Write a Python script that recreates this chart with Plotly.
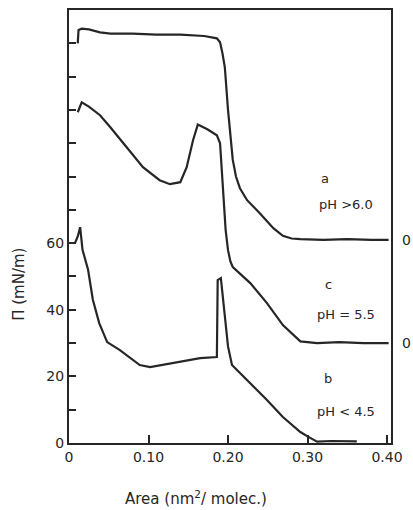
import plotly.graph_objects as go

# Curve a (pH > 6.0), displayed with its offset baseline (~61)
a_x = [0.011, 0.012, 0.016, 0.025, 0.039, 0.052, 0.080, 0.110, 0.140, 0.170, 0.186, 0.190,
       0.193, 0.196, 0.200, 0.203, 0.206, 0.210, 0.215, 0.224, 0.240, 0.257, 0.269, 0.280,
       0.291, 0.320, 0.350, 0.380, 0.402]
a_y = [120.0, 124.0, 124.4, 124.2, 123.3, 122.9, 122.9, 122.6, 122.6, 122.2, 121.5, 120.3,
       117.0, 112.8, 100.0, 93.0, 85.0, 80.0, 76.5, 72.9, 69.0, 64.5, 62.2, 61.4,
       61.2, 61.0, 61.2, 61.0, 61.0]

# Curve c (pH = 5.5), offset baseline (~30)
c_x = [0.011, 0.016, 0.025, 0.039, 0.052, 0.073, 0.093, 0.114, 0.127, 0.140, 0.148, 0.156,
       0.162, 0.174, 0.186, 0.190, 0.194, 0.197, 0.200, 0.203, 0.206, 0.228, 0.249, 0.269,
       0.291, 0.312, 0.340, 0.370, 0.402]
c_y = [99.3, 102.3, 101.0, 98.4, 94.8, 88.8, 82.8, 78.9, 77.7, 78.3, 82.8, 90.9,
       95.6, 94.2, 92.4, 90.0, 72.9, 64.0, 57.9, 54.5, 52.8, 48.0, 42.0, 35.4,
       30.5, 30.0, 30.3, 30.0, 30.0]

# Curve b (pH < 4.5)
b_x = [0.0075, 0.011, 0.014, 0.017, 0.024, 0.030, 0.038, 0.048, 0.064, 0.089, 0.102,
       0.131, 0.165, 0.186, 0.187, 0.191, 0.196, 0.200, 0.205, 0.228, 0.249, 0.269,
       0.291, 0.300, 0.312, 0.330, 0.362]
b_y = [60.0, 62.0, 64.8, 58.0, 52.0, 43.0, 36.0, 30.3, 27.9, 23.4, 22.8,
       24.0, 25.5, 25.8, 48.9, 49.5, 37.8, 29.0, 23.4, 18.0, 12.9, 7.8,
       3.3, 2.0, 0.4, 0.6, 0.5]

x_tickvals = [0, 0.10, 0.20, 0.30, 0.40]
x_ticktext = ["0", "0.10", "0.20", "0.30", "0.40"]
y_tickvals = [0, 10, 20, 30, 40, 50, 60, 70, 80, 90, 100, 110, 120]
y_ticktext = ["0", "", "20", "", "40", "", "60", "", "", "", "", "", ""]

curve_labels = [("a", 0.322, 79.5), ("pH >6.0", 0.349, 71.5),
                ("c", 0.326, 47.5), ("pH = 5.5", 0.349, 38.5),
                ("b", 0.326, 19.5), ("pH < 4.5", 0.349, 9.5)]
right_zero_y = [61, 30]

ink = "#262626"
fam = "DejaVu Sans, Verdana, sans-serif"
font = dict(family=fam, size=14, color=ink)

fig = go.Figure()
for xs, ys in [(a_x, a_y), (c_x, c_y), (b_x, b_y)]:
    fig.add_trace(go.Scatter(x=xs, y=ys, mode="lines",
                             line=dict(color=ink, width=2.2), showlegend=False,
                             hoverinfo="skip"))

fig.update_layout(
    width=413, height=510,
    margin=dict(l=69, r=22, t=10, b=67, autoexpand=False),
    paper_bgcolor="white", plot_bgcolor="white",
    font=font,
    showlegend=False,
)
fig.update_xaxes(range=[0, 0.405], tickvals=x_tickvals, ticktext=x_ticktext,
                 ticks="inside", ticklen=8, tickwidth=1.5, tickcolor=ink,
                 showline=True, linecolor=ink, linewidth=2, mirror=True,
                 showgrid=False, zeroline=False, tickfont=font, automargin=False)
fig.update_yaxes(range=[0, 130], tickvals=y_tickvals, ticktext=y_ticktext,
                 ticks="inside", ticklen=7, tickwidth=1.5, tickcolor=ink,
                 showline=True, linecolor=ink, linewidth=2, mirror=True,
                 showgrid=False, zeroline=False, tickfont=font, automargin=False)

for txt, x, y in curve_labels:
    fig.add_annotation(x=x, y=y, text=txt, showarrow=False, xanchor="center",
                       yanchor="middle", font=dict(family=fam, size=13, color=ink))
for y in right_zero_y:
    fig.add_annotation(xref="paper", x=1, y=y, text="0", showarrow=False,
                       xanchor="left", xshift=9, yanchor="middle", font=font)

fig.add_annotation(xref="paper", x=0, y=47.5, text="Π (mN/m)", textangle=-90,
                   showarrow=False, xanchor="center", xshift=-50, yanchor="middle",
                   font=dict(family=fam, size=15, color=ink))
fig.add_annotation(x=0.16, yref="paper", y=0, text="Area (nm<sup>2</sup>/ molec.)",
                   showarrow=False, xanchor="center", yanchor="middle", yshift=-55,
                   font=dict(family=fam, size=15, color=ink))

fig.write_html("out.html", config={"displayModeBar": False},
               post_script="document.body.style.margin='0';document.body.style.overflow='hidden';")
